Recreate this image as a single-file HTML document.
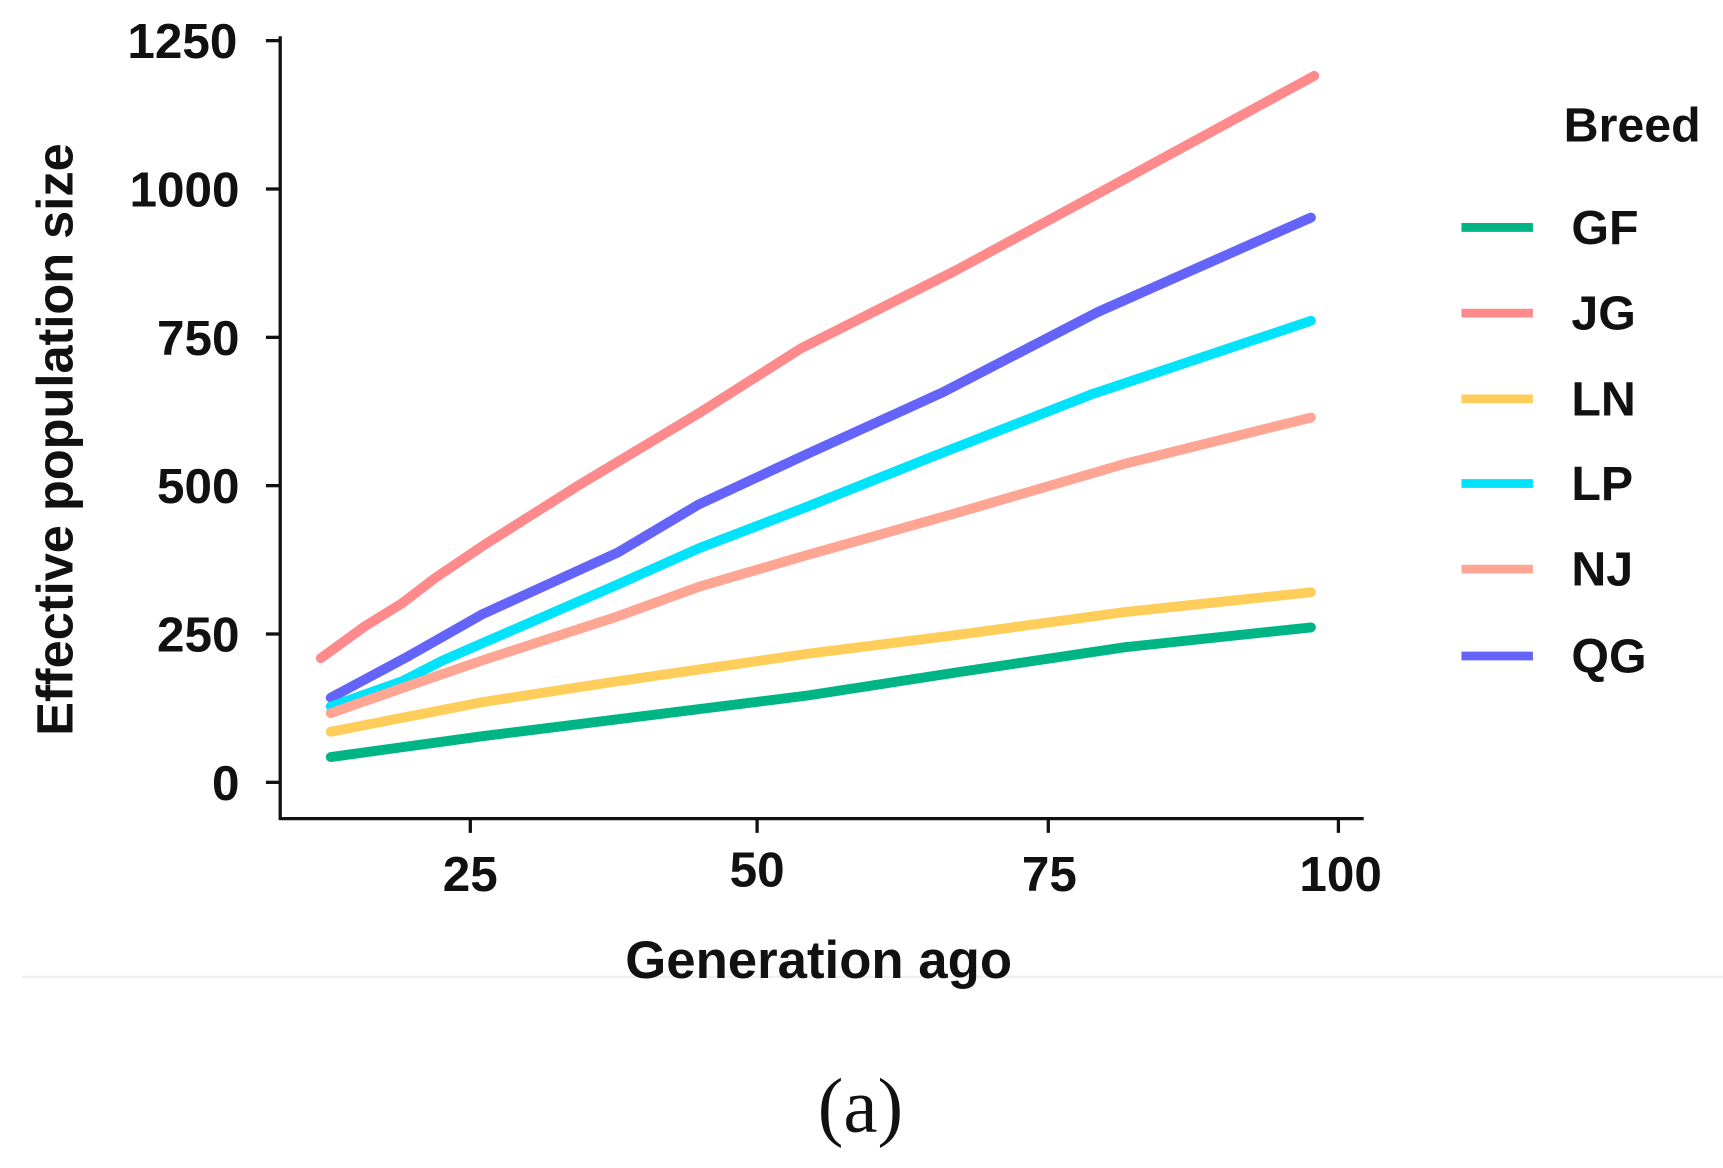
<!DOCTYPE html>
<html><head><meta charset="utf-8"><style>
html,body{margin:0;padding:0;background:#fff;}
svg{display:block;}
text{font-family:"Liberation Sans",sans-serif;font-weight:bold;fill:#111;}
</style></head><body>
<svg width="1723" height="1168" viewBox="0 0 1568 1063" preserveAspectRatio="none" xmlns="http://www.w3.org/2000/svg">
<rect width="1568" height="1063" fill="#fff"/>
<line x1="20" y1="889" x2="1568" y2="889" stroke="#eee" stroke-width="2"/>
<line x1="255" y1="33" x2="255" y2="746" stroke="#111" stroke-width="3"/>
<line x1="254" y1="745" x2="1241" y2="745" stroke="#111" stroke-width="3"/>
<g stroke="#111" stroke-width="3">
<line x1="242" y1="712" x2="255" y2="712"/><line x1="242" y1="577" x2="255" y2="577"/>
<line x1="242" y1="442" x2="255" y2="442"/><line x1="242" y1="307" x2="255" y2="307"/>
<line x1="242" y1="172" x2="255" y2="172"/><line x1="242" y1="37" x2="255" y2="37"/>
<line x1="428" y1="745" x2="428" y2="758"/><line x1="689" y1="745" x2="689" y2="758"/>
<line x1="954" y1="745" x2="954" y2="758"/><line x1="1218" y1="745" x2="1218" y2="758"/>
</g>
<g font-size="45" text-anchor="end">
<text x="218" y="728">0</text>
<text x="218" y="593">250</text>
<text x="218" y="458">500</text>
<text x="218" y="323">750</text>
<text x="218" y="188">1000</text>
<text x="216" y="53">1250</text>
</g>
<g font-size="45" text-anchor="middle">
<text x="428" y="811">25</text><text x="689" y="807">50</text>
<text x="955" y="811">75</text><text x="1220" y="811">100</text>
</g>
<text x="745" y="890" font-size="48" text-anchor="middle">Generation ago</text>
<text transform="translate(66,400) rotate(-90)" font-size="46" text-anchor="middle">Effective population size</text>
<text x="783" y="1030" font-size="70" text-anchor="middle" style="font-family:'Liberation Serif',serif;font-weight:normal">(a)</text>
<g fill="none" stroke-width="9" stroke-linecap="round" stroke-linejoin="round">
<polyline stroke="#ff8a8c" points="292,599 332,570 366,549 396,526 439,497 526,442 636,376 729,317 870,246 1005,173 1196,69"/>
<polyline stroke="#6464fa" points="301,635 372,597 439,559 562,503 636,459 735,413 858,357 999,284 1193,198"/>
<polyline stroke="#00e3fb" points="301,643 366,620 403,601 562,532 636,499 735,461 845,417 993,359 1193,292"/>
<polyline stroke="#ffa594" points="301,649 378,622 439,601 562,561 636,534 735,505 870,467 1024,422 1193,380"/>
<polyline stroke="#ffcd5a" points="301,666 439,639 562,620 735,595 870,578 1024,557 1193,539"/>
<polyline stroke="#00b585" points="301,689 439,670 735,633 870,612 1024,589 1193,571"/>
</g>
<text x="1423" y="129" font-size="44">Breed</text>
<g stroke-width="8">
<line x1="1330" y1="207" x2="1395" y2="207" stroke="#00b585"/>
<line x1="1330" y1="285" x2="1395" y2="285" stroke="#ff8a8c"/>
<line x1="1330" y1="363" x2="1395" y2="363" stroke="#ffcd5a"/>
<line x1="1330" y1="440" x2="1395" y2="440" stroke="#00e3fb"/>
<line x1="1330" y1="518" x2="1395" y2="518" stroke="#ffa594"/>
<line x1="1330" y1="597" x2="1395" y2="597" stroke="#6464fa"/>
</g>
<g font-size="44">
<text x="1430" y="222">GF</text><text x="1430" y="300">JG</text><text x="1430" y="378">LN</text>
<text x="1430" y="455">LP</text><text x="1430" y="533">NJ</text><text x="1430" y="612">QG</text>
</g>
</svg>
</body></html>
